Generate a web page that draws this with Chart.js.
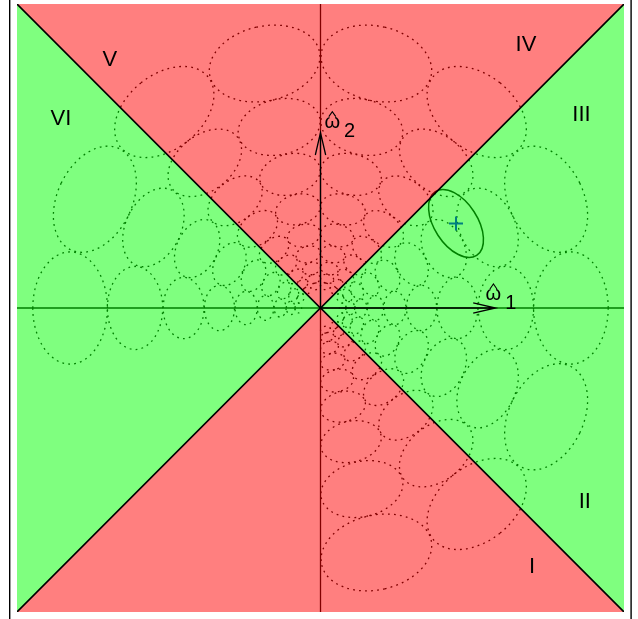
<!DOCTYPE html>
<html><head><meta charset="utf-8">
<script src="https://cdn.jsdelivr.net/npm/chart.js@4/dist/chart.umd.min.js"></script>
<style>html,body{margin:0;padding:0;background:#fff;} canvas{display:block;}</style>
</head><body>
<canvas id="c" width="638" height="619"></canvas>
<script>
// ---- data ----
const rayAnglesDeg = [-77.1, -51.4, -25.7, 0, 25.7, 51.4, 77.1, 102.9, 128.6, 154.3, 180];
const ringRadii = [0.825, 0.611, 0.451, 0.333, 0.245, 0.181, 0.133, 0.098, 0.073];
const radialHalfAxis = 0.149;      // as a fraction of the ring radius
const tangentialHalfAxis = 0.224;  // as a fraction of the ring radius
const upperBoundary = [{x:-1,y:1},{x:0,y:0},{x:1,y:1}];
const lowerBoundary = [{x:-1,y:-1},{x:0,y:0},{x:1,y:-1}];
const estimatePoint = [0.4465, 0.278];
const estimateHalfAxes = [0.125, 0.071];
const estimateAngleDeg = -57;
const arrowLength = 0.577;
const regionLabels = ['I','II','III','IV','V','VI'];
const regionLabelX = [0.697, 0.871, 0.860, 0.677, -0.694, -0.855];
const regionLabelY = [-0.847, -0.632, 0.643, 0.872, 0.822, 0.627];
const axisLabelSubs = ['1','2'];

const underlay = {
  id: 'underlay',
  beforeDatasetsDraw(chart) {
    const {ctx, chartArea: a, scales: {x, y}} = chart;
    const ppu = x.getPixelForValue(1) - x.getPixelForValue(0);
    ctx.save();
    ctx.strokeStyle = '#000';
    ctx.lineWidth = 1.3;
    ctx.beginPath();
    ctx.moveTo(a.left, y.getPixelForValue(0)); ctx.lineTo(a.right, y.getPixelForValue(0));
    ctx.moveTo(x.getPixelForValue(0), a.top); ctx.lineTo(x.getPixelForValue(0), a.bottom);
    ctx.stroke();
    ctx.setLineDash([1.8, 4.2]);
    ctx.lineWidth = 1.3;
    for (const deg of rayAnglesDeg) {
      const t = deg * Math.PI / 180;
      for (const r of ringRadii) {
        const cx = x.getPixelForValue(r * Math.cos(t));
        const cy = y.getPixelForValue(r * Math.sin(t));
        ctx.beginPath();
        ctx.ellipse(cx, cy, radialHalfAxis * r * ppu, tangentialHalfAxis * r * ppu, -t, 0, 2 * Math.PI);
        ctx.stroke();
      }
    }
    ctx.setLineDash([]);
    // estimate ellipse + marker
    const ex = x.getPixelForValue(estimatePoint[0]), ey = y.getPixelForValue(estimatePoint[1]);
    ctx.lineWidth = 1.5;
    ctx.beginPath();
    ctx.ellipse(ex, ey, estimateHalfAxes[0] * ppu, estimateHalfAxes[1] * ppu, -estimateAngleDeg * Math.PI / 180, 0, 2 * Math.PI);
    ctx.stroke();
    ctx.strokeStyle = '#0000ff';
    ctx.lineWidth = 2;
    ctx.beginPath();
    ctx.moveTo(ex - 7, ey); ctx.lineTo(ex + 7, ey);
    ctx.moveTo(ex, ey - 7); ctx.lineTo(ex, ey + 7);
    ctx.stroke();
    ctx.restore();
  }
};

const overlay = {
  id: 'overlay',
  afterDatasetsDraw(chart) {
    const {ctx, scales: {x, y}} = chart;
    const ox = x.getPixelForValue(0), oy = y.getPixelForValue(0);
    const tx = x.getPixelForValue(arrowLength), ty = y.getPixelForValue(arrowLength);
    ctx.save();
    ctx.strokeStyle = '#000';
    ctx.lineWidth = 1.3;
    const head = 23, ang = 13 * Math.PI / 180;
    ctx.beginPath();
    ctx.moveTo(ox, oy); ctx.lineTo(tx, oy);
    ctx.moveTo(tx - head * Math.cos(ang), oy - head * Math.sin(ang)); ctx.lineTo(tx, oy);
    ctx.lineTo(tx - head * Math.cos(ang), oy + head * Math.sin(ang));
    ctx.moveTo(ox, oy); ctx.lineTo(ox, ty);
    ctx.moveTo(ox - head * Math.sin(ang), ty + head * Math.cos(ang)); ctx.lineTo(ox, ty);
    ctx.lineTo(ox + head * Math.sin(ang), ty + head * Math.cos(ang));
    ctx.stroke();

    ctx.fillStyle = '#000';
    ctx.font = '22px "Liberation Sans", Arial, sans-serif';
    ctx.textAlign = 'center';
    ctx.textBaseline = 'alphabetic';
    regionLabels.forEach((t, i) => {
      ctx.fillText(t, x.getPixelForValue(regionLabelX[i]), y.getPixelForValue(regionLabelY[i]) + 8);
    });

    // axis labels: omega-hat with subscripts
    const drawOmega = (px, py, sub) => {
      ctx.font = '20px "Liberation Sans", Arial, sans-serif';
      ctx.textAlign = 'left';
      ctx.fillText('\u03c9', px, py);
      const w = ctx.measureText('\u03c9').width;
      ctx.fillText(sub, px + w + 4, py + 9);
      ctx.lineWidth = 1.1;
      ctx.beginPath();
      const hx = px + w / 2;
      ctx.moveTo(hx - 3.5, py - 11); ctx.lineTo(hx, py - 16); ctx.lineTo(hx + 3.5, py - 11);
      ctx.stroke();
    };
    drawOmega(tx - 10, oy - 8, axisLabelSubs[0]);
    drawOmega(ox + 4, ty - 5, axisLabelSubs[1]);
    ctx.restore();
  },
  afterDraw(chart) {
    const {ctx, chartArea: a} = chart;
    ctx.save();
    ctx.fillStyle = '#000';
    ctx.fillRect(a.left - 8, 0, 1.4, chart.height);
    ctx.fillRect(a.right + 6.4, 0, 1.4, chart.height);
    ctx.restore();
  }
};

new Chart(document.getElementById('c'), {
  type: 'scatter',
  data: {
    datasets: [
      {data: upperBoundary, showLine: true, borderColor: '#000', borderWidth: 1.6, pointRadius: 0,
       fill: 'end', backgroundColor: 'rgba(255,0,0,0.5)'},
      {data: lowerBoundary, showLine: true, borderColor: '#000', borderWidth: 1.6, pointRadius: 0,
       fill: 'start', backgroundColor: 'rgba(255,0,0,0.5)'},
      {data: upperBoundary, showLine: true, borderColor: 'rgba(0,0,0,0)', borderWidth: 0, pointRadius: 0,
       fill: 1, backgroundColor: 'rgba(0,255,0,0.5)'}
    ]
  },
  options: {
    responsive: false,
    animation: false,
    devicePixelRatio: 1,
    layout: {padding: {left: 17, right: 14, top: 4, bottom: 7}},
    scales: {
      x: {type: 'linear', min: -1, max: 1, display: false},
      y: {type: 'linear', min: -1, max: 1, display: false}
    },
    plugins: {legend: {display: false}, tooltip: {enabled: false}}
  },
  plugins: [underlay, overlay]
});
</script>
</body></html>
